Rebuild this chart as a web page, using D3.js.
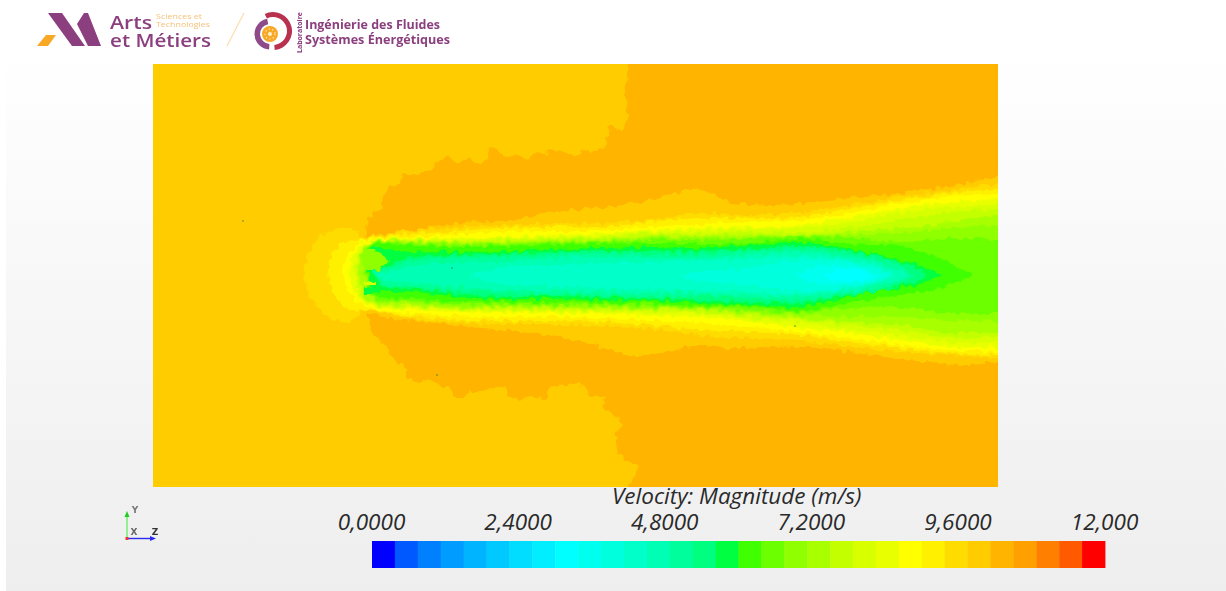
<!DOCTYPE html>
<html><head><meta charset="utf-8">
<script src="https://cdn.jsdelivr.net/npm/d3@7/dist/d3.min.js"></script>
<style>html,body{margin:0;padding:0;background:#fff}svg{display:block}</style></head>
<body><svg id="c" width="1226" height="591"></svg>
<script>
// Colour table of the 32 legend bands (0 to 12 m/s)
const bandColors = ["#0000ff","#0058ff","#0080ff","#009cff","#00b4ff","#00c9ff","#00ddff","#00eeff",
"#00ffff","#00ffee","#00ffdd","#00ffc9","#00ffb4","#00ff9c","#00ff80","#00ff40",
"#40ff00","#6cff00","#90ff00","#a8ff00","#c4ff00","#d8ff00","#e8ff00","#ffff00",
"#fff000","#ffdc00","#ffcc00","#ffb400","#ffa000","#ff8000","#ff5a00","#ff0000"];
const legendTicks = [0,2.4,4.8,7.2,9.6,12];
const legendLabels = ["0,0000","2,4000","4,8000","7,2000","9,6000","12,000"];
const legendTitle = "Velocity: Magnitude (m/s)";

// Far-field contour of band 27 (z, offset from the jet axis)
const wakeUpperZ = [475,472,475,470,457,452,444,434,420,410,397,392,384,377,364,355,336,335,327,317,312,302,295,282,275,264,251,247,237,230,229,218,212,214,860,860,475];
const wakeUpperH = [212,179,159,144,150,129,124,127,118,125,127,122,124,117,121,119,129,116,112,119,114,114,120,113,104,102,103,91,89,81,69,61,46,39,39,225,225];
const wakeLowerZ = [214,219,230,244,254,254,265,277,285,297,302,314,317,330,352,357,367,374,394,396,410,425,437,452,450,464,469,462,465,484,484,475,475,860,860];
const wakeLowerH = [-37,-59,-67,-87,-92,-102,-107,-103,-110,-110,-121,-121,-115,-115,-109,-119,-124,-121,-123,-109,-110,-107,-119,-121,-131,-141,-150,-159,-179,-189,-197,-211,-225,-225,-37];

// Band contours around the jet: station, upper edge, lower edge
const z26 = [212,234,274,310,357,394,430,484,547,580,647,697,754,814,845];
const top26 = [39,43,48,53,55,63,67,73,86,73,72,78,83,93,99];
const low26 = [-34,-42,-46,-50,-55,-59,-66,-80,-69,-72,-71,-76,-84,-89,-86];
const z25 = [150,157,170,187,200,209,219,232,257,297,347,397,447,497,547,597,647,697,747,797,845];
const top25 = [4,26,41,48,46,39,39,41,45,48,51,52,53,56,63,61,64,71,79,86,92];
const low25 = [4,-19,-37,-46,-44,-36,-34,-38,-42,-46,-48,-48,-49,-53,-59,-62,-64,-71,-76,-79,-82];
const z24 = [175,179,187,200,209,219,232,257,297,347,397,447,497,547,597,647,697,747,797,845];
const top24 = [4,23,31,36,37,38,40,42,44,48,49,49,54,58,58,59,68,76,83,87];
const low24 = [4,-14,-26,-34,-35,-33,-37,-40,-43,-45,-45,-46,-49,-54,-56,-59,-66,-72,-77,-79];
const z23 = [190,195,202,209,219,232,257,297,347,397,447,497,547,597,647,697,747,797,845];
const top23 = [4,21,29,35,37,38,39,41,44,45,45,49,52,54,56,63,73,79,82];
const low23 = [4,-14,-22,-29,-31,-35,-37,-40,-41,-41,-42,-44,-47,-51,-56,-62,-69,-74,-76];
const z22 = [196,200,209,219,232,257,297,347,397,447,497,547,597,647,697,747,797,845];
const top22 = [4,20,33,36,37,38,38,39,41,42,46,48,49,51,58,68,74,77];
const low22 = [4,-12,-27,-29,-32,-33,-36,-37,-37,-38,-40,-41,-46,-52,-57,-64,-71,-71];
const z21 = [200,205,209,219,232,257,297,347,397,447,497,547,597,647,697,747,797,845];
const top21 = [4,21,30,35,36,37,36,38,39,40,44,45,47,48,54,63,69,71];
const low21 = [4,-12,-24,-28,-31,-31,-34,-35,-35,-36,-37,-37,-43,-47,-54,-59,-66,-66];
const z20 = [203,209,219,232,257,297,347,397,447,497,547,597,647,697,747,797,845];
const top20 = [4,26,35,36,36,35,36,38,39,42,42,44,44,49,56,64,66];
const low20 = [4,-20,-27,-30,-30,-33,-33,-34,-34,-35,-36,-41,-44,-49,-54,-62,-61];
const z19 = [206,212,219,232,257,297,347,397,447,497,547,597,647,697,747,797,845];
const top19 = [6,31,34,35,35,34,34,36,37,40,40,41,41,44,48,54,61];
const low19 = [6,-22,-26,-29,-29,-32,-31,-32,-32,-33,-34,-38,-42,-46,-49,-57,-56];
const z18 = [210,215,219,232,257,297,347,397,447,497,547,597,647,697,747,797,845];
const top18 = [8,31,34,34,34,33,33,34,35,38,38,39,40,41,43,48,51];
const low18 = [8,-16,-24,-27,-27,-30,-30,-30,-31,-32,-33,-36,-39,-41,-41,-44,-46];
const z17 = [213,219,232,257,297,347,397,447,497,547,597,647,697,747,797,845];
const top17 = [8,33,33,33,31,32,33,34,36,36,37,39,38,34,38,36];
const low17 = [8,-22,-25,-25,-28,-28,-29,-29,-30,-32,-34,-37,-32,-31,-37,-37];
const z16 = [215,219,232,257,297,347,397,447,497,547,597,647,697,747,787,807,819];
const top16 = [14,32,32,31,29,30,31,32,33,32,33,37,32,30,18,8,1];
const low16 = [14,-18,-22,-22,-26,-26,-26,-27,-28,-30,-31,-35,-27,-19,-12,-5,1];
const z15 = [216,219,232,257,297,347,397,447,497,547,597,647,697,717,747,767,789];
const top15 = [18,28,28,24,24,24,27,28,29,28,31,34,27,23,16,11,1];
const low15 = [18,-12,-16,-15,-20,-23,-23,-24,-25,-27,-29,-31,-20,-16,-12,-8,1];
const z14 = [218,232,257,297,347,397,447,497,547,597,647,697,727,747,767,775];
const top14 = [6,8,18,21,22,24,25,25,25,27,30,25,19,14,6,1];
const low14 = [6,-11,-12,-17,-20,-20,-21,-22,-24,-26,-27,-19,-15,-10,-4,1];
const z13 = [219,232,257,297,347,397,447,497,547,597,647,697,727,747,762];
const top13 = [6,6,15,18,19,21,23,22,22,25,27,22,16,10,1];
const low13 = [6,-8,-10,-14,-17,-18,-19,-20,-20,-22,-24,-17,-12,-7,1];
const z12 = [222,232,257,297,347,397,447,497,547,597,647,697,727,747,757];
const top12 = [4,4,10,13,14,17,19,18,18,21,24,19,13,6,1];
const low12 = [4,-4,-6,-10,-14,-15,-16,-17,-17,-19,-20,-15,-9,-3,1];
const z11 = [317,347,397,447,497,547,597,647,697,727,742];
const top11 = [0,8,11,13,14,15,17,20,16,9,1];
const low11 = [0,-8,-10,-12,-13,-14,-16,-18,-12,-5,1];
const z10 = [527,547,597,647,697,727,737];
const top10 = [0,4,8,16,13,6,1];
const low10 = [0,-5,-9,-15,-11,-5,1];
const z9 = [642,667,697,722,729];
const top9 = [1,10,10,4,1];
const low9 = [1,-9,-8,-3,1];
const z8 = [672,682,697,712,719];
const top8 = [1,6,8,4,1];
const low8 = [1,-4,-5,-3,1];

// Small pockets beside the injector
const pocket18Z=[209,226,236,226,210], pocket18H=[27,24,14,6,6];
const pocket23Z=[211,222,222,211], pocket23H=[-5,-6,-9,-9];
const pocket15Z=[211,222,222,211], pocket15H=[-11,-12,-18,-18];
// Dark specks on the plane
const speckZ=[90,299,642,284], speckH=[55,8,-50,-99];

const bandLayers = [
 [26,z26,top26,low26],[25,z25,top25,low25],[24,z24,top24,low24],[23,z23,top23,low23],
 [22,z22,top22,low22],[21,z21,top21,low21],[20,z20,top20,low20],[19,z19,top19,low19],
 [18,z18,top18,low18],[17,z17,top17,low17],[16,z16,top16,low16],[15,z15,top15,low15],
 [14,z14,top14,low14],[13,z13,top13,low13],[12,z12,top12,low12],[11,z11,top11,low11],
 [10,z10,top10,low10],[9,z9,top9,low9],[8,z8,top8,low8]];

const svg = d3.select("#c");
const defs = svg.append("defs");
const bg = defs.append("linearGradient").attr("id","pg").attr("x1",0).attr("y1",0).attr("x2",0).attr("y2",1);
bg.append("stop").attr("offset","0").attr("stop-color","#ffffff");
bg.append("stop").attr("offset","1").attr("stop-color","#eeeeee");
svg.append("rect").attr("x",6).attr("y",48).attr("width",1220).attr("height",543).attr("fill","url(#pg)");

const xs = d3.scaleLinear().domain([0,845]).range([153,998]);
const ys = d3.scaleLinear().domain([-211,212]).range([487,64]);

defs.append("clipPath").attr("id","plane").append("rect")
  .attr("x",xs(0)).attr("y",ys(212)).attr("width",xs(845)-xs(0)).attr("height",ys(-211)-ys(212));
const rough = defs.append("filter").attr("id","mesh").attr("filterUnits","userSpaceOnUse")
  .attr("x",130).attr("y",40).attr("width",900).attr("height",470)
  .attr("color-interpolation-filters","sRGB");
rough.append("feTurbulence").attr("type","fractalNoise").attr("baseFrequency",0.17).attr("numOctaves",1).attr("seed",7).attr("result","n");
rough.append("feDisplacementMap").attr("in","SourceGraphic").attr("in2","n").attr("scale",9)
  .attr("xChannelSelector","R").attr("yChannelSelector","G").attr("result","d");
rough.append("feGaussianBlur").attr("in","d").attr("stdDeviation",0.55);
const soft = defs.append("filter").attr("id","soft").attr("color-interpolation-filters","sRGB")
  .attr("x","-5%").attr("y","-20%").attr("width","110%").attr("height","140%");
soft.append("feGaussianBlur").attr("stdDeviation",0.5);

const outer = svg.append("g").attr("clip-path","url(#plane)");
const field = outer.append("g").attr("filter","url(#mesh)");

const poly = d3.line().x(d=>xs(d[0])).y(d=>ys(d[1]));
const zip = (a,b)=>a.map((v,i)=>[v,b[i]]);

field.append("rect").attr("x",xs(-20)).attr("y",ys(230)).attr("width",xs(880)-xs(-20)).attr("height",ys(-230)-ys(230))
  .attr("fill",bandColors[26]);
field.append("path").attr("d",poly(zip(wakeUpperZ,wakeUpperH))+"Z").attr("fill",bandColors[27]);
field.append("path").attr("d",poly(zip(wakeLowerZ,wakeLowerH))+"Z").attr("fill",bandColors[27]);

const area = d3.area().x(d=>xs(d.z)).y0(d=>ys(d.low)).y1(d=>ys(d.top)).curve(d3.curveCatmullRom.alpha(0.5));
bandLayers.forEach(([band,z,top,low])=>{
  const rows = z.map((v,i)=>({z:v,top:top[i],low:low[i]}));
  const last = rows[rows.length-1];
  if(last.z===845) rows.push({z:865,top:last.top,low:last.low});
  field.append("path").attr("d",area(rows)).attr("fill",bandColors[band]);
});
field.append("path").attr("d",poly(zip(pocket18Z,pocket18H))+"Z").attr("fill",bandColors[18]);
field.append("path").attr("d",poly(zip(pocket23Z,pocket23H))+"Z").attr("fill",bandColors[21]);
field.append("path").attr("d",poly(zip(pocket15Z,pocket15H))+"Z").attr("fill",bandColors[15]);
outer.selectAll("circle.speck").data(speckZ).join("circle").attr("class","speck")
  .attr("cx",d=>xs(d)).attr("cy",(d,i)=>ys(speckH[i])).attr("r",0.7).attr("fill","#2a6a60");

// Legend
const vs = d3.scaleLinear().domain([0,12]).range([372,1105]);
const bandW = 12/bandColors.length;
const legend = svg.append("g");
legend.selectAll("rect").data(bandColors).join("rect")
  .attr("x",(d,i)=>vs(i*bandW)).attr("width",(d,i)=>vs((i+1)*bandW)-vs(i*bandW)+0.4)
  .attr("y",541).attr("height",27).attr("fill",d=>d);
const ax = d3.axisTop(vs).tickValues(legendTicks).tickFormat((d,i)=>legendLabels[i]).tickSize(0).tickPadding(0);
const axisG = svg.append("g").attr("transform","translate(-1,530)").call(ax);
axisG.select(".domain").remove();
axisG.selectAll("text").attr("font-family","'Open Sans'").attr("font-style","italic")
  .attr("font-size",22.5).attr("fill","#2a2a2a").attr("dy",0);
svg.append("text").attr("x",612).attr("y",504).attr("font-family","'Open Sans'").attr("font-style","italic")
  .attr("font-size",22.5).attr("fill","#2a2a2a").text(legendTitle);

// Orientation triad
const tri = svg.append("g").attr("filter","url(#soft)");
tri.append("line").attr("x1",127).attr("y1",539).attr("x2",127).attr("y2",514).attr("stroke","#55ee55").attr("stroke-width",1.2);
tri.append("path").attr("d","M124.5,517 L127,511 L129.5,517Z").attr("fill","#22cc22");
tri.append("line").attr("x1",127).attr("y1",538.5).attr("x2",152).attr("y2",538.5).attr("stroke","#2a2aee").attr("stroke-width",1.4);
tri.append("path").attr("d","M150,536 L156,538.5 L150,541Z").attr("fill","#2a2aee");
tri.append("rect").attr("x",125.5).attr("y",537).attr("width",3).attr("height",3).attr("fill","#ee3333");
const triText=(s,x,y,c)=>tri.append("text").attr("x",x).attr("y",y).attr("font-family","'DejaVu Sans'").attr("font-size",9).attr("font-weight",700).attr("text-anchor","middle").attr("fill",c).text(s);
triText("Y",135,513,"#777");triText("X",134,535,"#666");triText("Z",155,535,"#333");

// Header logos
const purple="#8b3f7f", amber="#f9a825";
const logo = svg.append("g").attr("filter","url(#soft)");
logo.append("path").attr("d","M48,13 L62,13 L85,46 L72,46Z").attr("fill",purple);
logo.append("path").attr("d","M77,24 L84,13 L88,13 L101,46 L88,46Z").attr("fill",purple);
logo.append("path").attr("d","M37,46 L46,35 L56,35 L48,46Z").attr("fill",amber);
logo.append("line").attr("x1",227).attr("y1",46).attr("x2",244).attr("y2",13).attr("stroke","#fbdcae").attr("stroke-width",1.2);
const T=(s,x,y,size,color,weight,len)=>{const t=logo.append("text").attr("x",x).attr("y",y).attr("font-family","'Open Sans'").attr("font-size",size).attr("font-weight",weight||400).attr("fill",color).text(s); if(len) t.attr("textLength",len).attr("lengthAdjust","spacingAndGlyphs"); return t;};
T("Arts",110,29,18.5,purple,600,42);
T("et Métiers",110,47,18.5,purple,600,101);
T("Sciences et",156,19,6.8,"#f8c07a",400,46);
T("Technologies",156,27,6.8,"#f8c07a",400,54);
T("Ingénierie des Fluides",305,29,12.5,purple,700,135);
T("Systèmes Énergétiques",305,44,12.5,purple,700,145);
logo.append("text").attr("transform","translate(302,53) rotate(-90)").attr("font-family","'Open Sans'").attr("font-size",7).attr("font-weight",700).attr("fill",purple).attr("textLength",41).text("Laboratoire");
const arc=d3.arc();
logo.append("path").attr("transform","translate(273,31)").attr("fill","#b8324f")
  .attr("d",arc({innerRadius:14,outerRadius:19,startAngle:-0.45,endAngle:3.05}));
logo.append("path").attr("transform","translate(270,34)").attr("fill","#8f4a8a")
  .attr("d",arc({innerRadius:10,outerRadius:15.5,startAngle:3.2,endAngle:6.1}));
logo.append("circle").attr("cx",270).attr("cy",34).attr("r",8).attr("fill",amber);
logo.append("circle").attr("cx",270).attr("cy",34).attr("r",5).attr("fill","none").attr("stroke","#fff3d0").attr("stroke-width",1.2).attr("stroke-dasharray","1.2 2.4");
logo.append("circle").attr("cx",270).attr("cy",34).attr("r",2).attr("fill","#fff3d0");
</script></body></html>
